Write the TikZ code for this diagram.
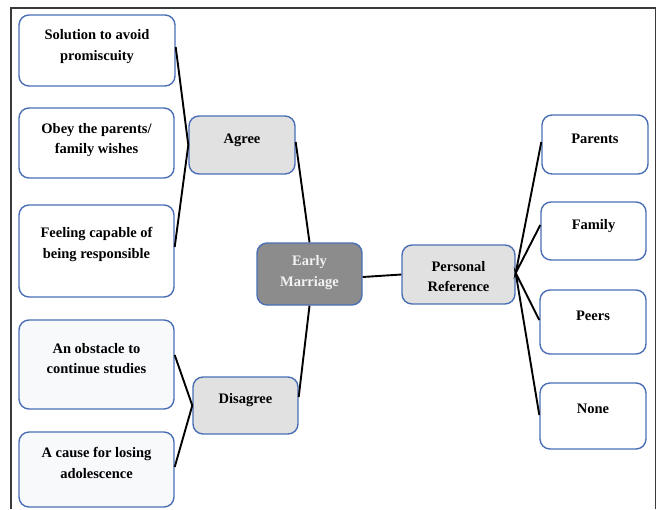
\documentclass[tikz,border=0pt]{standalone}
\usepackage{fontspec}
\setmainfont{Liberation Serif}
\usetikzlibrary{calc}
\definecolor{bordblue}{HTML}{4A6FB5}
\definecolor{hubgray}{HTML}{E1E1E1}
\definecolor{coregray}{HTML}{8C8C8C}
\definecolor{coretext}{HTML}{F2F2F2}
\definecolor{palefill}{HTML}{F8F9FB}
\definecolor{framegray}{HTML}{3A3A3A}
\tikzset{
  boxbase/.style={draw=bordblue, line width=1.4pt, rounded corners=10pt, inner sep=0pt},
  leaf/.style={boxbase, fill=white},
  paleleaf/.style={boxbase, fill=palefill},
  hub/.style={boxbase, fill=hubgray},
  core/.style={boxbase, fill=coregray},
  txt/.style={align=center, font=\bfseries\fontsize{14.5}{20.5}\selectfont, inner sep=0pt},
  link/.style={line width=1.9pt, black},
  framestyle/.style={draw=framegray, line width=1.1pt}
}
\begin{document}
\begin{tikzpicture}[x=1pt,y=-1pt]
\useasboundingbox (0,0) rectangle (660,509);
% frame
\coordinate (fbl) at (11,509);
\coordinate (ftl) at (11,8);
\coordinate (ftr) at (655.5,8);
\coordinate (fbr) at (655.5,509);
\draw[framestyle] (fbl) -- (ftl) -- (ftr) -- (fbr);

% left boxes
\node[leaf, minimum width=156pt, minimum height=71pt] (b1) at (97,50.5) {};
\node[txt] (b1t) at ($(b1)+(0,-4)$) {Solution to avoid\\promiscuity};
\node[leaf, minimum width=155pt, minimum height=70pt] (b2) at (96.5,143) {};
\node[txt] (b2t) at ($(b2)+(0,-3)$) {Obey the parents/\\family wishes};
\node[leaf, minimum width=155pt, minimum height=92pt] (b3) at (96.5,251) {};
\node[txt] (b3t) at ($(b3)+(0,-6.5)$) {Feeling capable of\\being responsible};
\node[paleleaf, minimum width=155pt, minimum height=89pt] (b4) at (96.5,364.5) {};
\node[txt] (b4t) at ($(b4)+(0,-6)$) {An obstacle to\\continue studies};
\node[paleleaf, minimum width=155pt, minimum height=75pt] (b5) at (96.5,469.5) {};
\node[txt] (b5t) at ($(b5)+(0,-6.5)$) {A cause for losing\\adolescence};

% hubs
\node[hub, minimum width=106pt, minimum height=58pt] (agree) at (242,145) {};
\node[txt] (agreet) at ($(agree)+(0,-5)$) {Agree};
\node[hub, minimum width=105pt, minimum height=57pt] (disagree) at (245.5,405.5) {};
\node[txt] (disagreet) at ($(disagree)+(0,-5.5)$) {Disagree};
\node[core, minimum width=105pt, minimum height=62pt] (em) at (309.5,274) {};
\node[txt, text=coretext] (emt) at ($(em)+(0,-1.5)$) {Early\\Marriage};
\node[hub, minimum width=113pt, minimum height=59pt] (pr) at (458.5,274.5) {};
\node[txt] (prt) at ($(pr)+(0,2)$) {Personal\\Reference};

% right boxes
\node[leaf, minimum width=106pt, minimum height=59pt] (parents) at (595,144.5) {};
\node[txt] (parentst) at ($(parents)+(0,-5.5)$) {Parents};
\node[leaf, minimum width=105pt, minimum height=58pt] (family) at (593.5,231) {};
\node[txt] (familyt) at ($(family)+(0,-5)$) {Family};
\node[leaf, minimum width=106pt, minimum height=64pt] (peers) at (593,322) {};
\node[txt] (peerst) at ($(peers)+(0,-6)$) {Peers};
\node[leaf, minimum width=106pt, minimum height=66pt] (none) at (593,416) {};
\node[txt] (nonet) at ($(none)+(0,-7)$) {None};

% connectors
\draw[link] ($(b1.east)+(0,-3.5)$) -- (agree.west) -- ($(b3.east)+(0,-4)$);
\draw[link] ($(agree.east)+(0,-3)$) -- (em.north);
\draw[link] ($(b4.east)+(0,-9.5)$) -- (disagree.west) -- ($(b5.east)+(0,-2.5)$);
\draw[link] ($(disagree.east)+(0,-8.5)$) -- (em.south);
\draw[link] ($(em.east)+(0,3)$) -- (pr.west);
\draw[link] ($(parents.west)+(0,-2.5)$) -- ($(pr.east)+(0,-1.5)$) -- ($(family.west)+(0,-6)$);
\draw[link] ($(peers.west)+(0,-2)$) -- ($(pr.east)+(0,-1.5)$) -- ($(none.west)+(0,-1)$);
\end{tikzpicture}
\end{document}
